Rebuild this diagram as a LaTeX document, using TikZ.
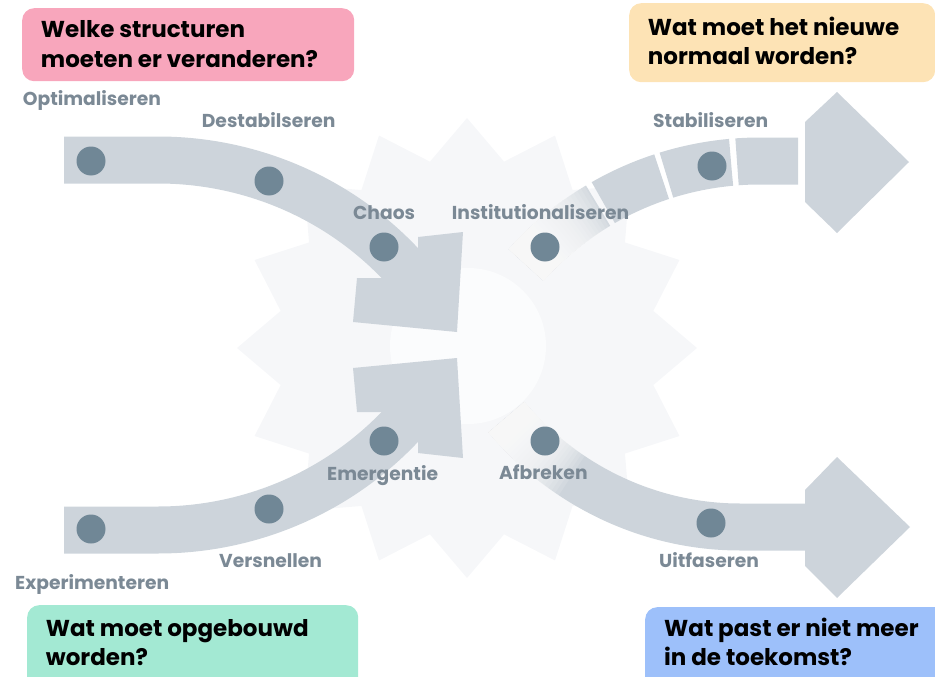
\documentclass[tikz,border=0pt]{standalone}
\usepackage{fontspec}
\setmainfont{Poppins}
\definecolor{bandc}{HTML}{CDD4DB}
\definecolor{dotcol}{HTML}{708796}
\definecolor{labcol}{HTML}{7B8995}
\definecolor{starcol}{HTML}{F6F7F9}
\definecolor{pinkc}{HTML}{F8A6BC}
\definecolor{orangec}{HTML}{FDE3B5}
\definecolor{greenc}{HTML}{A3E9D3}
\definecolor{bluec}{HTML}{9DC0FA}
\begin{document}
\begin{tikzpicture}[x=1pt,y=-1pt,
  band/.style={draw=bandc, line width=47pt},
  headfill/.style={fill=bandc},
  fadeover/.style={draw=white, line width=47.5pt, opacity=0.12},
  stagedot/.style={circle, fill=dotcol, minimum size=29pt, inner sep=0pt},
  lab/.style={font=\fontsize{18.7}{20}\selectfont\bfseries, text=labcol, anchor=base west, inner sep=0pt},
  qbox/.style={rounded corners=12pt, inner sep=0pt, anchor=north west},
  qtext/.style={font=\fontsize{23}{29.5}\selectfont\bfseries, text=black, align=left, anchor=base west, inner sep=0pt}]
\useasboundingbox (0,0) rectangle (935,677);

% faint starburst
\fill[starcol] plot[samples at={0,...,31}, variable=\i]
  ({467+(230-40*mod(\i,2))*cos(90+\i*11.25)}, {348-(230-40*mod(\i,2))*sin(90+\i*11.25)}) -- cycle;
\fill[white!60!starcol] (468,346) circle[radius=78pt];

% top-left arrow
\draw[band] (64,160) -- (158,160) .. controls (251,160) and (340,198.5) .. (403,266.5);
\fill[headfill] (418,237) -- (463,232) -- (457,332) -- (353,322) -- (357,278) -- (385,278) -- (400,262) -- (418,250) -- cycle;

% bottom-left arrow
\draw[band] (64,530) -- (158,530) .. controls (251,530) and (340,491.5) .. (403,423.5);
\fill[headfill] (418,453) -- (463,458) -- (457,358) -- (353,368) -- (357,412) -- (385,412) -- (400,428) -- (418,440) -- cycle;

% top-right arrow (segmented)
\draw[band, dash pattern=on 61pt off 6pt on 66pt off 5pt on 64pt off 6pt on 300pt off 10pt]
  (798,161) -- (760,161) .. controls (670.7,161) and (585.7,198.6) .. (526,265);
\fill[headfill] (805,122) -- (837,92) -- (909,162) -- (837,233) -- (805,202) -- cycle;
\foreach \L in {4,8,...,96}
  \draw[fadeover, dash pattern=on \L pt off 3000pt] (526,265) .. controls (585.7,198.6) and (670.7,161) .. (760,161);

% bottom-right arrow
\draw[band] (506.4,417.1) .. controls (564.3,486.1) and (649.9,527) .. (740,527) -- (810,527);
\fill[headfill] (805,490) -- (837,457) -- (910,527) -- (837,598) -- (805,566) -- cycle;
\foreach \L in {4,8,...,88}
  \draw[fadeover, dash pattern=on \L pt off 3000pt] (506.4,417.1) .. controls (564.3,486.1) and (649.9,527) .. (740,527);

% stage dots
\node[stagedot] (d1) at (91,161) {};
\node[stagedot] (d2) at (269,181) {};
\node[stagedot] (d3) at (384,247) {};
\node[stagedot] (d4) at (545,247) {};
\node[stagedot] (d5) at (712,166) {};
\node[stagedot] (d6) at (384,441) {};
\node[stagedot] (d7) at (545,441) {};
\node[stagedot] (d8) at (91,529) {};
\node[stagedot] (d9) at (269,509) {};
\node[stagedot] (d10) at (711,523) {};

% stage labels
\node[lab] (l1) at (22.7,106) {Optimaliseren};
\node[lab] (l2) at (201.7,128) {Destabilseren};
\node[lab] (l3) at (353,219) {Chaos};
\node[lab] (l4) at (451.7,219) {Institutionaliseren};
\node[lab] (l5) at (653,128) {Stabiliseren};
\node[lab] (l6) at (327,480) {Emergentie};
\node[lab] (l7) at (499,479) {Afbreken};
\node[lab] (l8) at (15,589) {Experimenteren};
\node[lab] (l9) at (219,567) {Versnellen};
\node[lab] (l10) at (659,567) {Uitfaseren};

% question boxes
\node[qbox, fill=pinkc, minimum width=332pt, minimum height=73pt] (q1) at (22,8) {};
\node[qtext] (q1t) at (40.7,67.5) {Welke structuren\\moeten er veranderen?};
\node[qbox, fill=orangec, minimum width=306pt, minimum height=79pt] (q2) at (629,3) {};
\node[qtext] (q2t) at (647.7,65) {Wat moet het nieuwe\\normaal worden?};
\node[qbox, fill=greenc, minimum width=331pt, minimum height=90pt] (q3) at (27,605) {};
\node[qtext] (q3t) at (45.7,665.5) {Wat moet opgebouwd\\worden?};
\node[qbox, fill=bluec, minimum width=310pt, minimum height=90pt] (q4) at (645,607) {};
\node[qtext] (q4t) at (664,665.5) {Wat past er niet meer\\in de toekomst?};
\end{tikzpicture}
\end{document}
